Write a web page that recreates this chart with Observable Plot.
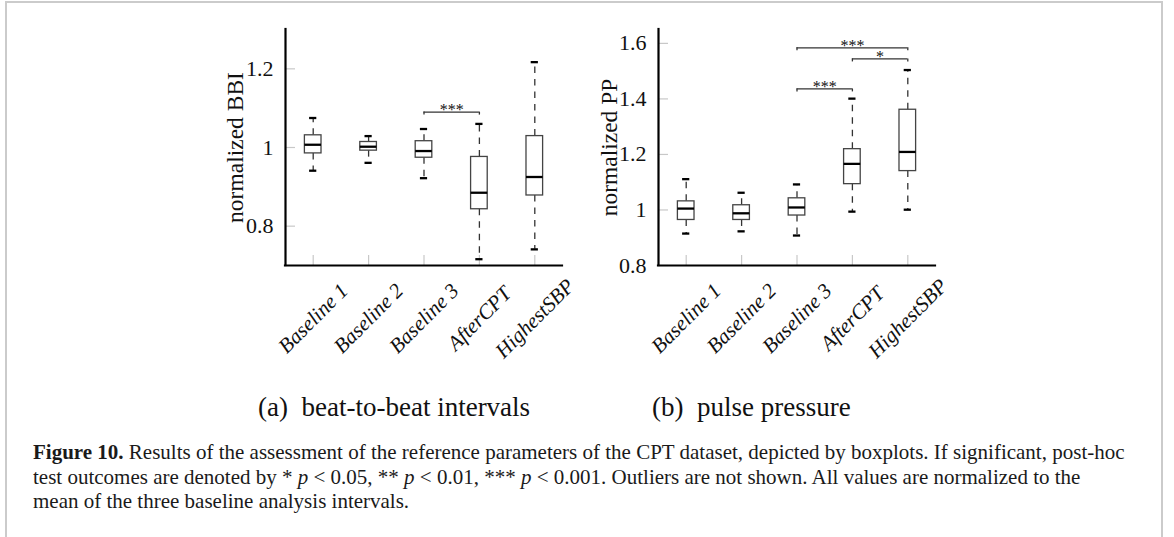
<!DOCTYPE html>
<html><head><meta charset="utf-8">
<script src="https://cdn.jsdelivr.net/npm/d3@7"></script>
<script src="https://cdn.jsdelivr.net/npm/@observablehq/plot@0.6"></script>
<style>
html,body{margin:0;padding:0;background:#fff;}
body{width:1174px;height:537px;position:relative;overflow:hidden;font-family:"Liberation Serif",serif;}
#frame{position:absolute;left:5px;top:1px;width:1154px;height:600px;border:2px solid #cbcbcb;border-bottom:none;}
.panel{position:absolute;top:0;}
.sub{position:absolute;font-size:27px;line-height:27px;white-space:nowrap;color:#111;}
#caption{position:absolute;left:33px;top:440px;font-size:21px;line-height:24.5px;white-space:nowrap;color:#1a1a1a;}
</style></head><body>
<div id="frame"></div>
<div id="pa" class="panel" style="left:185px"></div>
<div id="pb" class="panel" style="left:558px"></div>
<div class="sub" style="left:258px;top:394px">(a)&nbsp; beat-to-beat intervals</div>
<div class="sub" style="left:652px;top:394px">(b)&nbsp; pulse pressure</div>
<div id="caption"><b>Figure 10.</b> Results of the assessment of the reference parameters of the CPT dataset, depicted by boxplots. If significant, post-hoc<br>test outcomes are denoted by * <i>p</i> &lt; 0.05, ** <i>p</i> &lt; 0.01, *** <i>p</i> &lt; 0.001. Outliers are not shown. All values are normalized to the<br>mean of the three baseline analysis intervals.</div>
<script>
// ---- data ----
const categories = ["Baseline 1", "Baseline 2", "Baseline 3", "AfterCPT", "HighestSBP"];

// (a) normalized BBI
const bbiLow  = [0.941, 0.961, 0.922, 0.716, 0.741];
const bbiQ1   = [0.985, 0.992, 0.974, 0.843, 0.878];
const bbiMed  = [1.007, 1.002, 0.991, 0.885, 0.925];
const bbiQ3   = [1.031, 1.014, 1.016, 0.976, 1.029];
const bbiHigh = [1.075, 1.029, 1.047, 1.060, 1.217];
const bbiTicks = [0.8, 1, 1.2];
const bbiDomain = [0.7, 1.3];
const bbiBracketFrom  = ["Baseline 3"];
const bbiBracketTo    = ["AfterCPT"];
const bbiBracketLevel = [1.090];
const bbiBracketLabel = ["***"];

// (b) normalized PP
const ppLow  = [0.915, 0.923, 0.908, 0.994, 1.001];
const ppQ1   = [0.964, 0.964, 0.980, 1.093, 1.140];
const ppMed  = [1.005, 0.988, 1.009, 1.166, 1.209];
const ppQ3   = [1.031, 1.017, 1.042, 1.219, 1.361];
const ppHigh = [1.111, 1.062, 1.092, 1.401, 1.504];
const ppTicks = [0.8, 1, 1.2, 1.4, 1.6];
const ppDomain = [0.8, 1.65];
const ppBracketFrom  = ["Baseline 3", "AfterCPT", "Baseline 3"];
const ppBracketTo    = ["HighestSBP", "HighestSBP", "AfterCPT"];
const ppBracketLevel = [1.584, 1.544, 1.436];
const ppBracketLabel = ["***", "*", "***"];

// ---- drawing ----
const FONT = "Liberation Serif, serif";
const ML = 100, MR = 30, MT = 29, MB = 120, FW = 277, FH = 236;

function panel({low, q1, med, q3, high, ticks, domain, label, labelDx, bFrom, bTo, bLevel, bLabel}) {
  const boxes = categories.map((c, i) => ({i, low: low[i], q1: q1[i], med: med[i], q3: q3[i], high: high[i]}));
  const idx = categories.map((c, i) => i);
  const brackets = bLevel.map((lv, k) => ({
    from: categories.indexOf(bFrom[k]), to: categories.indexOf(bTo[k]), level: lv, label: bLabel[k]
  }));
  const xDomain = [-0.5, categories.length - 0.5];
  const bw = 0.15, cw = 0.065;
  return Plot.plot({
    width: ML + FW + MR, height: MT + FH + MB,
    marginLeft: ML, marginRight: MR, marginTop: MT, marginBottom: MB,
    style: {background: "transparent", fontFamily: FONT, color: "#111", overflow: "visible"},
    x: {type: "linear", domain: xDomain, axis: null},
    y: {domain, axis: null},
    marks: [
      // inward light ticks
      Plot.ruleY(ticks, {y: d => d, insetRight: FW - 10, stroke: "#c8c8c8", strokeWidth: 1.2}),
      Plot.ruleX(idx, {x: d => d, insetTop: FH - 10, stroke: "#c8c8c8", strokeWidth: 1.2}),
      // whiskers
      Plot.ruleX(boxes, {x: "i", y1: "q3", y2: "high", stroke: "#333", strokeWidth: 1.3, strokeDasharray: "6.5,6"}),
      Plot.ruleX(boxes, {x: "i", y1: "q1", y2: "low", stroke: "#333", strokeWidth: 1.3, strokeDasharray: "6.5,6"}),
      Plot.ruleY(boxes, {y: "high", x1: d => d.i - cw, x2: d => d.i + cw, stroke: "#000", strokeWidth: 2.3}),
      Plot.ruleY(boxes, {y: "low", x1: d => d.i - cw, x2: d => d.i + cw, stroke: "#000", strokeWidth: 2.3}),
      // boxes
      Plot.rect(boxes, {x1: d => d.i - bw, x2: d => d.i + bw, y1: "q1", y2: "q3", fill: "white", stroke: "#444", strokeWidth: 1.3}),
      Plot.ruleY(boxes, {y: "med", x1: d => d.i - bw, x2: d => d.i + bw, stroke: "#000", strokeWidth: 2.3}),
      // significance brackets
      Plot.ruleY(brackets, {y: "level", x1: "from", x2: "to", stroke: "#333", strokeWidth: 1.3}),
      Plot.ruleX(brackets, {x: "from", y1: "level", y2: "level", insetBottom: -3, stroke: "#333", strokeWidth: 1.3}),
      Plot.ruleX(brackets, {x: "to", y1: "level", y2: "level", insetBottom: -3, stroke: "#333", strokeWidth: 1.3}),
      Plot.text(brackets, {x: d => (d.from + d.to) / 2, y: "level", text: "label", lineAnchor: "bottom", dy: 3, fontSize: 16}),
      // axis lines
      Plot.ruleX([xDomain[0]], {stroke: "#000", strokeWidth: 2.2, strokeLinecap: "square"}),
      Plot.ruleY([domain[0]], {stroke: "#000", strokeWidth: 2.2, strokeLinecap: "square"}),
      // tick labels
      Plot.text(ticks, {y: d => d, text: d => String(d), frameAnchor: "left", dx: -12, textAnchor: "end", fontSize: 22}),
      Plot.text(idx, {x: d => d, y: () => domain[0], text: d => categories[d], rotate: -45, dy: 53, fontSize: 21, fontStyle: "italic"}),
      // y label
      Plot.text([label], {frameAnchor: "left", dx: labelDx, rotate: -90, textAnchor: "middle", lineAnchor: "top", fontSize: 23.5})
    ]
  });
}

document.getElementById("pa").append(panel({
  low: bbiLow, q1: bbiQ1, med: bbiMed, q3: bbiQ3, high: bbiHigh, ticks: bbiTicks, domain: bbiDomain,
  label: "normalized BBI", labelDx: -59,
  bFrom: bbiBracketFrom, bTo: bbiBracketTo, bLevel: bbiBracketLevel, bLabel: bbiBracketLabel
}));
document.getElementById("pb").append(panel({
  low: ppLow, q1: ppQ1, med: ppMed, q3: ppQ3, high: ppHigh, ticks: ppTicks, domain: ppDomain,
  label: "normalized PP", labelDx: -58,
  bFrom: ppBracketFrom, bTo: ppBracketTo, bLevel: ppBracketLevel, bLabel: ppBracketLabel
}));
</script>
</body></html>
